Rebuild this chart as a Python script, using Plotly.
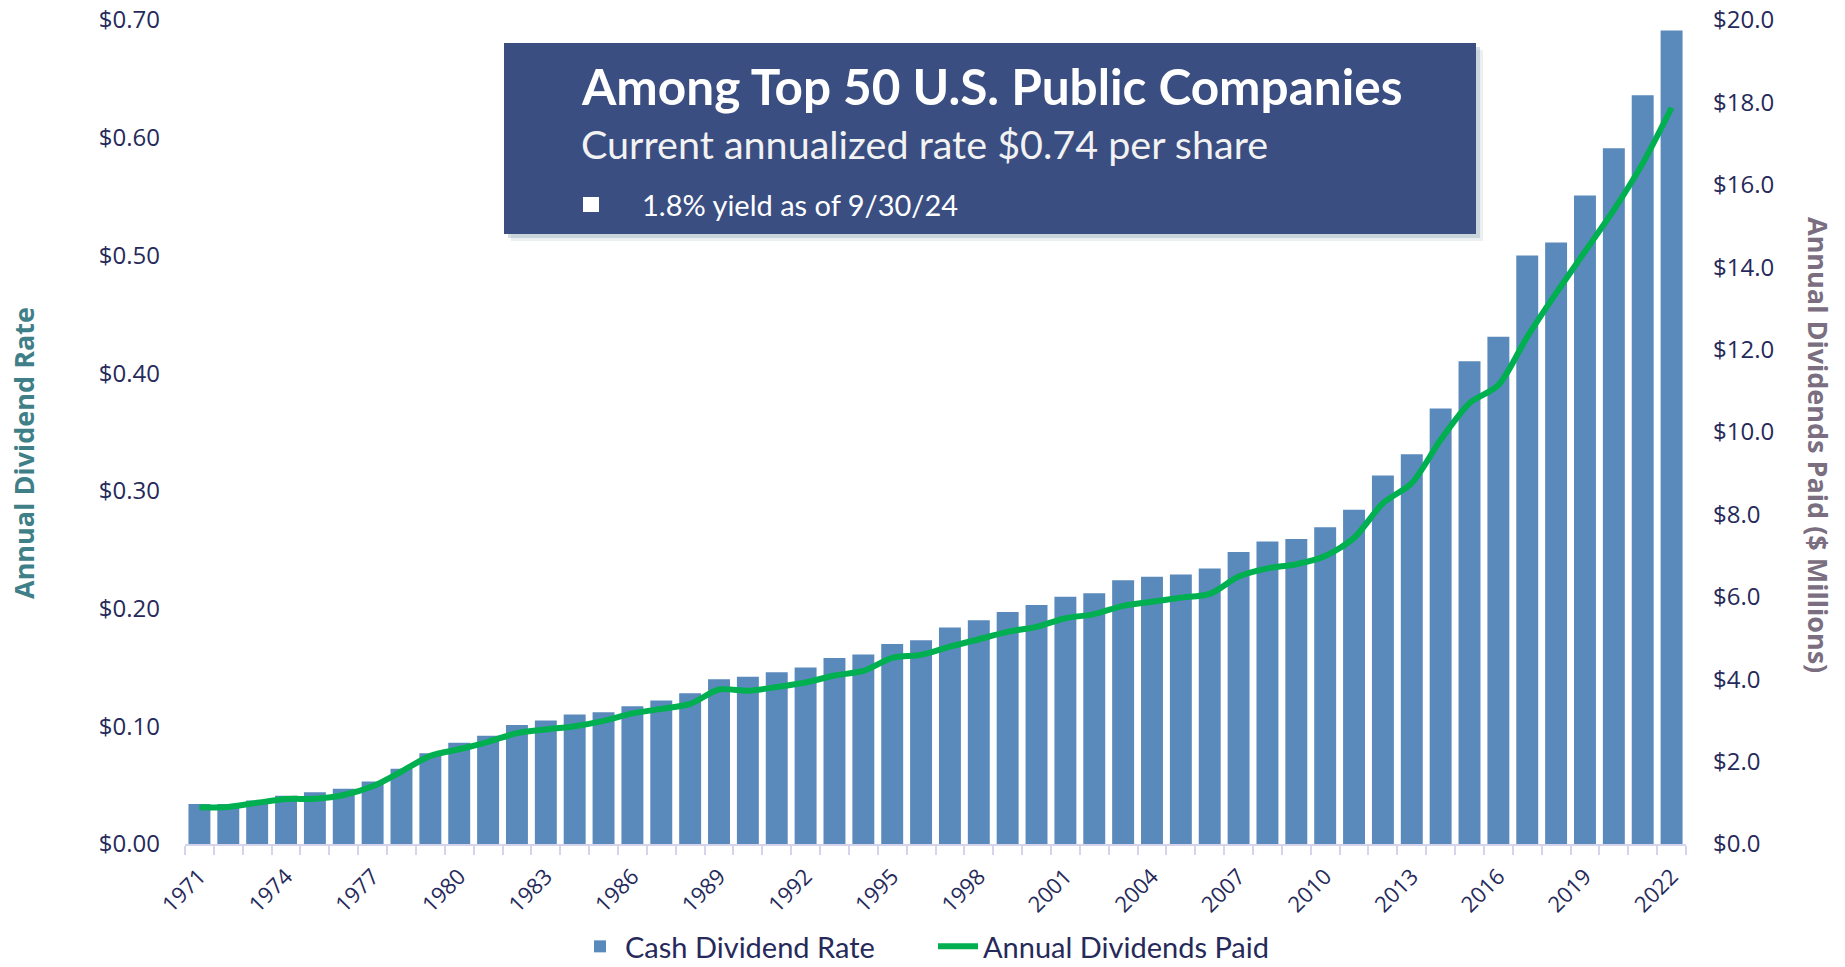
import plotly.graph_objects as go

# ---------------- data ----------------
years = list(range(1971, 2023))
cash_dividend_rate = [
    0.034, 0.034, 0.037, 0.041, 0.044, 0.047, 0.053, 0.064, 0.077, 0.086,
    0.092, 0.101, 0.105, 0.110, 0.112, 0.117, 0.122, 0.128, 0.140, 0.142,
    0.146, 0.150, 0.158, 0.161, 0.170, 0.173, 0.184, 0.190, 0.197, 0.203,
    0.210, 0.213, 0.224, 0.227, 0.229, 0.234, 0.248, 0.257, 0.259, 0.269,
    0.284, 0.313, 0.331, 0.370, 0.410, 0.431, 0.500, 0.511, 0.551, 0.591,
    0.636, 0.691,
]
annual_dividends_paid = [
    0.89, 0.90, 1.00, 1.09, 1.10, 1.19, 1.40, 1.76, 2.14, 2.30,
    2.48, 2.69, 2.78, 2.86, 2.99, 3.17, 3.28, 3.40, 3.75, 3.72,
    3.81, 3.92, 4.09, 4.20, 4.52, 4.59, 4.79, 4.97, 5.15, 5.27,
    5.48, 5.58, 5.78, 5.88, 5.98, 6.07, 6.49, 6.69, 6.79, 6.99,
    7.43, 8.27, 8.76, 9.81, 10.70, 11.14, 12.31, 13.37, 14.38, 15.39,
    16.52, 17.87,
]
year_tick_labels = [str(y) for y in range(1971, 2023, 3)]
left_ticks = [0.0, 0.1, 0.2, 0.3, 0.4, 0.5, 0.6, 0.7]
left_tick_labels = ["$0.00", "$0.10", "$0.20", "$0.30", "$0.40", "$0.50", "$0.60", "$0.70"]
right_ticks = [0, 2, 4, 6, 8, 10, 12, 14, 16, 18, 20]
right_tick_labels = ["$0.0", "$2.0", "$4.0", "$6.0", "$8.0", "$10.0",
                     "$12.0", "$14.0", "$16.0", "$18.0", "$20.0"]

title_text = "Among Top 50 U.S. Public Companies"
subtitle_text = "Current annualized rate $0.74 per share"
bullet_text = "1.8% yield as of 9/30/24"

# ---------------- layout geometry ----------------
W, H = 1845, 967
L, R, T, B = 185, 1686, 20, 844


def px_x(p):
    return (p - L) / (R - L)


def px_y(p):
    return (B - p) / (B - T)


NAVY = "#262a5a"
TICKFONT = dict(family="Open Sans, Noto Sans, sans-serif", size=24, color=NAVY)
XTICKFONT = dict(family="Open Sans, Noto Sans, sans-serif", size=22, color=NAVY)

fig = go.Figure()
fig.add_trace(go.Bar(
    x=years, y=cash_dividend_rate, name="Cash Dividend Rate",
    marker=dict(color="#5a89bc", line=dict(width=0)), width=0.76,
    yaxis="y",
))
fig.add_trace(go.Scatter(
    x=years, y=annual_dividends_paid, name="Annual Dividends Paid",
    mode="lines", line=dict(color="#00b050", width=6, shape="spline", smoothing=0.8),
    yaxis="y2",
))

fig.update_layout(
    width=W, height=H,
    margin=dict(l=L, r=W - R, t=T, b=H - B, autoexpand=False),
    paper_bgcolor="white", plot_bgcolor="white",
    showlegend=True,
    legend=dict(
        orientation="h", x=px_x(575), xanchor="left", y=px_y(972), yanchor="bottom",
        font=dict(family="Lato, Carlito, sans-serif", size=29, color=NAVY),
        itemwidth=40, entrywidth=303, bgcolor="rgba(0,0,0,0)",
    ),
    xaxis=dict(
        range=[1970.5, 2022.5], automargin=False,
        tickvals=[int(t) for t in year_tick_labels], ticktext=year_tick_labels,
        tickangle=-45, tickfont=XTICKFONT,
        ticks="outside", ticklen=9, tickcolor="rgba(0,0,0,0)",
        minor=dict(tickvals=[1970.5 + i for i in range(53)], ticks="outside",
                   ticklen=9, tickcolor="#d4d4ec", tickwidth=2),
        showline=True, linecolor="#d4d4ec", linewidth=2,
        showgrid=False, zeroline=False,
    ),
    yaxis=dict(
        range=[0, 0.7], tickvals=left_ticks, ticktext=left_tick_labels, automargin=False,
        tickfont=TICKFONT, showgrid=False, zeroline=False, showline=False,
        ticks="", ticklabelstandoff=24,
    ),
    yaxis2=dict(
        range=[0, 20], tickvals=right_ticks, ticktext=right_tick_labels, automargin=False,
        tickfont=TICKFONT, showgrid=False, zeroline=False, showline=False,
        ticks="", overlaying="y", side="right", ticklabelstandoff=26,
    ),
    bargap=0.24,
)

# ---- title box with soft shadow ----
bx0, bx1, by0, by1 = 504, 1476, 43, 234
for off, col in [(7, "rgba(140,165,175,0.18)"), (4, "rgba(140,165,175,0.35)")]:
    fig.add_shape(type="rect", xref="paper", yref="paper",
                  x0=px_x(bx0 + off), x1=px_x(bx1 + off), y0=px_y(by0 + off), y1=px_y(by1 + off),
                  fillcolor=col, line=dict(width=0), layer="above")
fig.add_shape(type="rect", xref="paper", yref="paper",
              x0=px_x(bx0), x1=px_x(bx1), y0=px_y(by0), y1=px_y(by1),
              fillcolor="#3a4e82", line=dict(width=0), layer="above")
# bullet square
fig.add_shape(type="rect", xref="paper", yref="paper",
              x0=px_x(583), x1=px_x(599), y0=px_y(197), y1=px_y(212),
              fillcolor="white", line=dict(width=0), layer="above")

BOXFONT = "Lato, Carlito, sans-serif"
fig.add_annotation(text="<b>" + title_text + "</b>", xref="paper", yref="paper",
                   x=px_x(579), y=px_y(86), xanchor="left", yanchor="middle", showarrow=False,
                   font=dict(family=BOXFONT, size=49.5, color="white"))
fig.add_annotation(text=subtitle_text, xref="paper", yref="paper",
                   x=px_x(579), y=px_y(143), xanchor="left", yanchor="middle", showarrow=False,
                   font=dict(family=BOXFONT, size=39.5, color="#f2f2f2"))
fig.add_annotation(text=bullet_text, xref="paper", yref="paper",
                   x=px_x(640), y=px_y(205), xanchor="left", yanchor="middle", showarrow=False,
                   font=dict(family=BOXFONT, size=29, color="white"))

# ---- axis titles ----
fig.add_annotation(text="<b>Annual Dividend Rate</b>", xref="paper", yref="paper",
                   x=px_x(24), y=px_y(453), xanchor="center", yanchor="middle", showarrow=False,
                   textangle=-90,
                   font=dict(family="Open Sans, Noto Sans, sans-serif", size=27, color="#3f7f88"))
fig.add_annotation(text="<b>Annual Dividends Paid ($ Millions)</b>", xref="paper", yref="paper",
                   x=px_x(1818), y=px_y(445), xanchor="center", yanchor="middle", showarrow=False,
                   textangle=90,
                   font=dict(family="Open Sans, Noto Sans, sans-serif", size=27, color="#7a6e80"))

fig.write_html("out.html", config={"displayModeBar": False},
               post_script="document.body.style.margin='0';document.body.style.overflow='hidden';")
